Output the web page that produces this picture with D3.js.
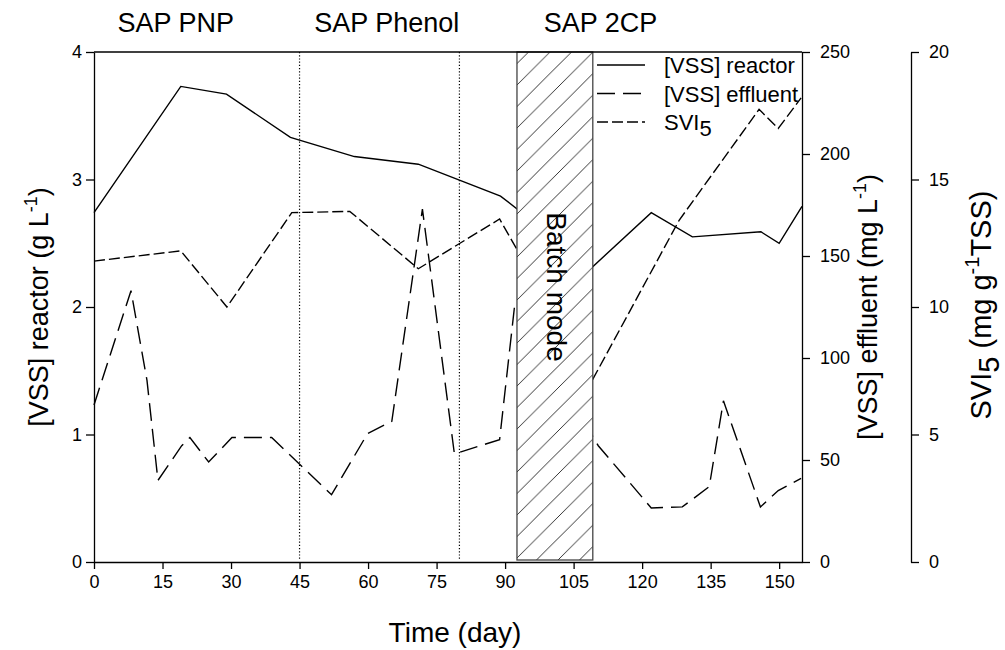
<!DOCTYPE html>
<html>
<head>
<meta charset="utf-8">
<script src="https://cdn.jsdelivr.net/npm/d3@7"></script>
<style>
  html, body { margin: 0; padding: 0; background: #fff; }
  svg { display: block; font-family: Arial, "Liberation Sans", sans-serif; }
</style>
</head>
<body>
<svg id="chart" width="1005" height="650"></svg>
<script>
// Reactor VSS (g/L) over time
const reactorDay = [0, 19, 29, 43, 57, 71, 89, 109, 122, 131, 146, 150, 155];
const reactorVSS = [2.74, 3.73, 3.67, 3.33, 3.18, 3.12, 2.87, 2.31, 2.74, 2.55, 2.59, 2.50, 2.79];

// Effluent VSS (mg/L) over time
const effluentDay = [0, 8.1, 11.6, 14, 19.2, 21, 25.1, 30.2, 38.9, 52, 59.9, 65.2, 71.9, 78.9, 88.8, 92.1, 110.4, 122, 128.8, 134.7, 137.8, 145.9, 149.8, 154.8];
const effluentVSS = [77, 133, 89, 40, 57, 61, 49, 61, 61, 33, 63, 69, 173, 53, 60, 126, 57, 26.5, 27, 37, 79, 27, 35, 41];

// Sludge volume index after 5 min
const sviDay = [0, 19, 29.1, 43.3, 56, 71, 88.8, 109, 128.1, 145.6, 149.8, 154.8];
const sviValue = [11.8, 12.2, 10.0, 13.7, 13.75, 11.5, 13.45, 7.1, 13.4, 17.75, 17.0, 18.2];

// Operating phases
const phaseLabels = ["SAP PNP", "SAP Phenol", "SAP 2CP"];
const phaseLabelDay = [17.9, 64.1, 110.9];
const phaseBoundaryDay = [45, 80];
const batchStartDay = 92.6;
const batchEndDay = 109.2;

// Axis ticks
const xTicks = [0, 15, 30, 45, 60, 75, 90, 105, 120, 135, 150];
const reactorTicks = [0, 1, 2, 3, 4];
const effluentTicks = [0, 50, 100, 150, 200, 250];
const sviTicks = [0, 5, 10, 15, 20];

(function () {
  const svg = d3.select("#chart");
  const pL = 94, pR = 802, pT = 52, pB = 562;
  const fontFam = 'Arial, "Liberation Sans", sans-serif';

  const x = d3.scaleLinear().domain([0, 155]).range([pL, pR]);
  const yReactor = d3.scaleLinear().domain([0, 4]).range([pB, pT]);
  const yEffluent = d3.scaleLinear().domain([0, 250]).range([pB, pT]);
  const ySvi = d3.scaleLinear().domain([0, 20]).range([pB, pT]);

  const lineStroke = 1.4;

  function drawSeries(days, values, yScale, dash) {
    const pts = days.map((d, i) => [d, values[i]]);
    svg.append("path")
      .datum(pts)
      .attr("fill", "none")
      .attr("stroke", "#000")
      .attr("stroke-width", lineStroke)
      .attr("stroke-dasharray", dash)
      .attr("d", d3.line().x(p => x(p[0])).y(p => yScale(p[1])));
  }

  drawSeries(reactorDay, reactorVSS, yReactor, null);
  drawSeries(effluentDay, effluentVSS, yEffluent, "18,8");
  drawSeries(sviDay, sviValue, ySvi, "11,4");

  // Phase boundaries (dotted)
  svg.selectAll("line.phase")
    .data(phaseBoundaryDay)
    .enter().append("line")
    .attr("class", "phase")
    .attr("x1", d => x(d)).attr("x2", d => x(d))
    .attr("y1", pT).attr("y2", pB - 2)
    .attr("stroke", "#000")
    .attr("stroke-width", 1.2)
    .attr("stroke-dasharray", "1.2,2");

  // Hatched batch-mode block
  const defs = svg.append("defs");
  const pat = defs.append("pattern")
    .attr("id", "hatch")
    .attr("patternUnits", "userSpaceOnUse")
    .attr("width", 21.5).attr("height", 21.5);
  pat.append("rect").attr("width", 21.5).attr("height", 21.5).attr("fill", "#fff");
  pat.append("path")
    .attr("d", "M-5.4,5.4 L5.4,-5.4 M0,21.5 L21.5,0 M16.1,26.9 L26.9,16.1")
    .attr("stroke", "#000").attr("stroke-width", 0.8);

  svg.append("rect")
    .attr("x", x(batchStartDay))
    .attr("y", pT)
    .attr("width", x(batchEndDay) - x(batchStartDay))
    .attr("height", pB - 2 - pT)
    .attr("fill", "url(#hatch)")
    .attr("stroke", "#444")
    .attr("stroke-width", 1.3);

  svg.append("text")
    .attr("transform", `translate(${(x(batchStartDay) + x(batchEndDay)) / 2 - 8},287) rotate(90)`)
    .attr("text-anchor", "middle")
    .attr("font-size", 28)
    .text("Batch mode");

  // Axes
  const fs = 18;
  const gx = svg.append("g").attr("transform", `translate(0,${pB})`)
    .call(d3.axisBottom(x).tickValues(xTicks).tickSize(7).tickSizeOuter(0).tickPadding(6));
  const gl = svg.append("g").attr("transform", `translate(${pL},0)`)
    .call(d3.axisLeft(yReactor).tickValues(reactorTicks).tickFormat(d3.format("d")).tickSize(8).tickSizeOuter(0).tickPadding(4));
  const ge = svg.append("g").attr("transform", `translate(${pR},0)`)
    .call(d3.axisRight(yEffluent).tickValues(effluentTicks).tickFormat(d3.format("d")).tickSize(8).tickSizeOuter(0).tickPadding(10));
  const gs = svg.append("g").attr("transform", `translate(911,0)`)
    .call(d3.axisRight(ySvi).tickValues(sviTicks).tickFormat(d3.format("d")).tickSize(8).tickSizeOuter(0).tickPadding(10));

  [gx, gl, ge, gs].forEach(g => {
    g.selectAll("text").attr("font-size", fs).attr("font-family", fontFam).attr("fill", "#000");
    g.selectAll("line, path").attr("stroke", "#000").attr("stroke-width", 1.3);
  });

  // Top frame
  svg.append("line")
    .attr("x1", pL).attr("x2", pR).attr("y1", pT).attr("y2", pT)
    .attr("stroke", "#000").attr("stroke-width", 1.3);

  // Phase titles
  svg.selectAll("text.phase")
    .data(phaseLabels)
    .enter().append("text")
    .attr("class", "phase")
    .attr("x", (d, i) => x(phaseLabelDay[i]))
    .attr("y", 32)
    .attr("text-anchor", "middle")
    .attr("font-size", 27)
    .text(d => d);

  // Axis titles
  svg.append("text")
    .attr("x", 455)
    .attr("y", 642)
    .attr("text-anchor", "middle")
    .attr("font-size", 28)
    .text("Time (day)");

  function rotatedTitle(cx, cy, size, parts) {
    const small = Math.round(size * 0.68);
    const t = svg.append("text")
      .attr("transform", `translate(${cx},${cy}) rotate(-90)`)
      .attr("text-anchor", "middle")
      .attr("font-size", size);
    parts.forEach(p => {
      const s = t.append("tspan").text(p.t);
      if (p.sup) s.attr("font-size", small).attr("dy", -Math.round(size * 0.4));
      if (p.sub) s.attr("dy", Math.round(size * 0.26));
      if (p.back) s.attr("dy", p.back * size);
    });
  }

  rotatedTitle(48, 307, 27, [
    { t: "[VSS] reactor (g L" }, { t: "-1", sup: true }, { t: ")", back: 0.4 }
  ]);
  rotatedTitle(877, 307, 27, [
    { t: "[VSS] effluent (mg L" }, { t: "-1", sup: true }, { t: ")", back: 0.4 }
  ]);
  rotatedTitle(991, 305, 29, [
    { t: "SVI" }, { t: "5", sub: true }, { t: " (mg g", back: -0.26 }, { t: "-1", sup: true }, { t: "TSS)", back: 0.4 }
  ]);

  // Legend
  const legendItems = [
    { label: "[VSS] reactor", dash: null },
    { label: "[VSS] effluent", dash: "18,8" },
    { label: "SVI", sub: "5", dash: "11,4" }
  ];
  const lg = svg.append("g");
  legendItems.forEach((item, i) => {
    const yy = 65 + i * 28.5;
    lg.append("line")
      .attr("x1", 597).attr("x2", 645).attr("y1", yy).attr("y2", yy)
      .attr("stroke", "#000").attr("stroke-width", lineStroke)
      .attr("stroke-dasharray", item.dash);
    const t = lg.append("text")
      .attr("x", 664).attr("y", yy + 8)
      .attr("font-size", 22)
      .text(item.label);
    if (item.sub) t.append("tspan").attr("dy", 6).text(item.sub);
  });
})();
</script>
</body>
</html>
